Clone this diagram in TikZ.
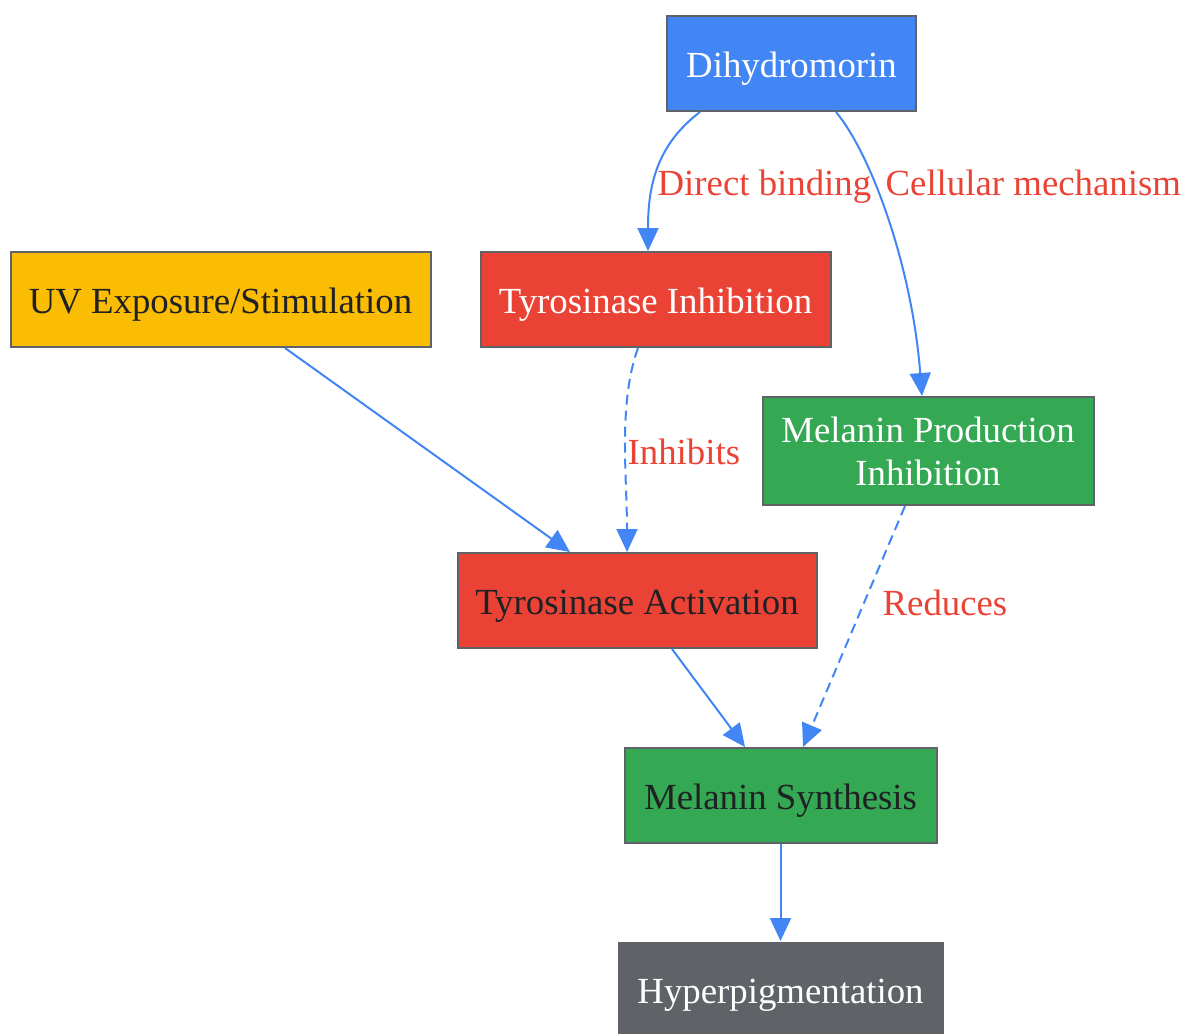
\documentclass[tikz,border=0pt]{standalone}
\usepackage{fontspec}
\setmainfont{Liberation Serif}
\usepackage{tikz}
\usetikzlibrary{arrows.meta}
\usetikzlibrary{positioning}
\definecolor{gblue}{HTML}{4285F4}
\definecolor{gred}{HTML}{EA4335}
\definecolor{gyellow}{HTML}{FBBC04}
\definecolor{ggreen}{HTML}{34A853}
\definecolor{ggray}{HTML}{5F6368}
\definecolor{gdark}{HTML}{202124}

\begin{document}
\begin{tikzpicture}[
            x = 0.5pt, y = -0.5pt, % one unit per pixel, y down
            > = {Triangle[length=11.5pt, width=10.5pt]}, % arrow head style
            semithick % line style
        ]

        \tikzstyle{box}=[
            draw = ggray,
            line width = 1pt,
            minimum height = 47.5pt,
            inner sep = 0pt,
            align = center,
            text = white,
            font = \fontsize{18.4}{21.5}\selectfont
        ]
        \tikzstyle{onebox}=[box, text height = 13.5pt, text depth = 0pt]
        \tikzstyle{link}=[->, draw = gblue, line width = 1pt]
        \tikzstyle{lbl}=[text = gred, anchor = west, inner sep = 0pt,
            text height = 12.5pt, text depth = 0pt,
            font = \fontsize{18.4}{21.5}\selectfont]

        \useasboundingbox (0,0) rectangle (1186,1033);

        % compound
        \node[onebox, fill=gblue, minimum width=124.5pt] (dih) at (791.5,63.5) {Dihydromorin};

        % triggers and mechanisms
        \node[onebox, fill=gyellow, text=gdark, minimum width=210pt] (uv) at (220.5,299.5) {UV Exposure/Stimulation};
        \node[onebox, fill=gred, minimum width=175pt] (tinh) at (655.5,299.5) {Tyrosinase Inhibition};
        \node[box, fill=ggreen, minimum width=165.5pt, minimum height=54pt] (mpi) at (928,451) {Melanin Production\\Inhibition};

        % pathway
        \node[onebox, fill=gred, text=gdark, minimum width=179.5pt] (tact) at (637,600.5) {Tyrosinase Activation};
        \node[onebox, fill=ggreen, text=gdark, minimum width=156pt] (msyn) at (780.5,795.5) {Melanin Synthesis};
        \node[onebox, fill=ggray, draw=none, minimum width=163pt] (hyp) at (780.5,989.5) {Hyperpigmentation};

        % edges from the compound
        \draw[link] ([shift={(-91.5,0)}]dih.south) .. controls +(-45,34) and +(0,-62) .. ([shift={(-7.5,0)}]tinh.north);
        \node[lbl] (lbdirect) at (657,183) {Direct binding};
        \draw[link] ([shift={(44.5,0)}]dih.south) .. controls +(35,42) and +(-10,-130) .. ([shift={(-6,0)}]mpi.north);
        \node[lbl] (lbcell) at (885,183) {Cellular mechanism};

        % pathway edges
        \draw[link] ([shift={(64.5,0)}]uv.south) -- ([shift={(-67,0)}]tact.north);
        \draw[link, dashed, dash pattern=on 5pt off 3pt] ([shift={(-17.5,0)}]tinh.south) .. controls +(-20,55) and +(0,-75) .. ([shift={(-10,0)}]tact.north);
        \node[lbl] (lbinh) at (627,452) {Inhibits};
        \draw[link, dashed, dash pattern=on 5pt off 3pt] ([shift={(-23,0)}]mpi.south) -- ([shift={(22.5,0)}]msyn.north);
        \node[lbl] (lbred) at (882,603) {Reduces};
        \draw[link] ([shift={(35,0)}]tact.south) -- ([shift={(-35.5,0)}]msyn.north);
        \draw[link] (msyn) -- (hyp);

\end{tikzpicture}
\end{document}
